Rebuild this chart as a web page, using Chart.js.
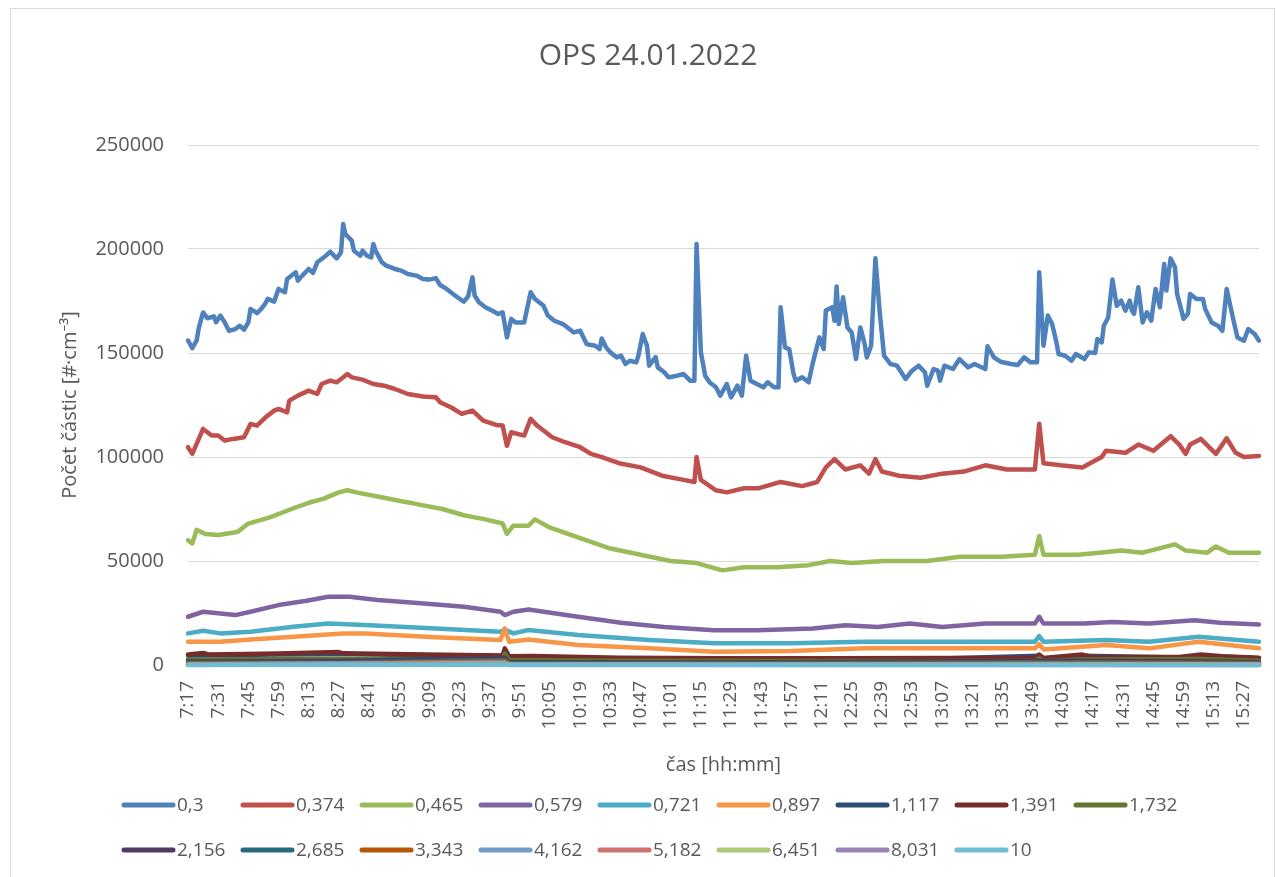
<!DOCTYPE html>
<html>
<head>
<meta charset="utf-8">
<title>OPS 24.01.2022</title>
<script src="https://cdn.jsdelivr.net/npm/chart.js@4.4.1/dist/chart.umd.min.js"></script>
<style>
html, body { margin: 0; padding: 0; background: #fff; }
</style>
</head>
<body>
<canvas id="ops-chart" width="1276" height="877"></canvas>
<script>
// OPS particle counts, one line per size channel
const FONT = "'Open Sans', 'Noto Sans', sans-serif";
const TEXT = '#595959';

// x = minutes after 7:17, a label every 14 minutes
const xTickMinutes = [0, 14, 28, 42, 56, 70, 84, 98, 112, 126, 140, 154, 168, 182, 196, 210, 224, 238,
    252, 266, 280, 294, 308, 322, 336, 350, 364, 378, 392, 406, 420, 434, 448, 462, 476, 490];
const xTickLabels = ['7:17', '7:31', '7:45', '7:59', '8:13', '8:27', '8:41', '8:55', '9:09', '9:23', '9:37', '9:51',
    '10:05', '10:19', '10:33', '10:47', '11:01', '11:15', '11:29', '11:43', '11:57', '12:11', '12:25', '12:39',
    '12:53', '13:07', '13:21', '13:35', '13:49', '14:03', '14:17', '14:31', '14:45', '14:59', '15:13', '15:27'];
const yTicks = [0, 50000, 100000, 150000, 200000, 250000];

const sizeLabels = ['0,3', '0,374', '0,465', '0,579', '0,721', '0,897', '1,117', '1,391', '1,732',
    '2,156', '2,685', '3,343', '4,162', '5,182', '6,451', '8,031', '10'];
const seriesColors = ['#4f81bd', '#c0504d', '#9bbb59', '#8064a2', '#4bacc6', '#f79646', '#2c4d75', '#772c2a', '#5f7530',
    '#4d3b62', '#276a7c', '#b65708', '#729aca', '#cd7371', '#afc97a', '#9983b5', '#6fbdd1'];

// [minute, count]
const s0300 = [
    [0, 156000], [2, 152300], [4, 156000], [5, 162000], [7, 169500], [9, 166700], [12, 167600], [13, 164800], [15, 168000], [17, 164800],
    [19, 160700], [22, 161500], [24, 163100], [26, 161200], [28, 164700], [29, 171200], [32, 169200], [34, 171200], [36, 174000], [37, 176000],
    [40, 174700], [42, 180800], [45, 179200], [46, 185600], [50, 188800], [51, 184800], [53, 187200], [56, 190400], [58, 188500], [60, 193600],
    [62, 195200], [64, 196800], [66, 198700], [69, 195500], [71, 198400], [72, 212000], [73, 207200], [76, 204000], [77, 199200], [80, 196800],
    [81, 199200], [83, 196800], [85, 196000], [86, 202400], [87, 199200], [90, 193600], [92, 192000], [96, 190400], [99, 189600], [102, 188000],
    [106, 187200], [109, 185600], [112, 185300], [115, 186000], [117, 182700], [120, 180800], [123, 178400], [125, 176800], [128, 174700], [130, 177200],
    [132, 186400], [133, 177600], [135, 174400], [138, 172000], [141, 170400], [144, 168800], [146, 169600], [148, 157500], [150, 166400], [152, 164700],
    [156, 164700], [159, 179200], [161, 176000], [164, 173500], [165, 172700], [167, 168000], [170, 165500], [174, 163900], [177, 161500], [179, 159900],
    [182, 160700], [185, 154300], [187, 153800], [189, 153500], [191, 151900], [192, 157000], [194, 152700], [196, 150300], [199, 147900], [201, 148700],
    [203, 144700], [205, 146300], [208, 145500], [209, 148700], [211, 159100], [213, 153500], [214, 143900], [217, 148000], [218, 143100], [221, 140700],
    [223, 138300], [227, 139100], [230, 139900], [233, 136700], [235, 136700], [236, 202400], [238, 150300], [240, 139100], [242, 135900], [245, 133500],
    [247, 129500], [250, 135100], [252, 128700], [255, 134300], [257, 129500], [259, 148700], [261, 136700], [264, 135100], [267, 133500], [269, 135900],
    [272, 133500], [274, 133500], [275, 172000], [277, 152700], [279, 151900], [281, 140000], [282, 136700], [285, 138300], [288, 135900], [290, 145500],
    [293, 157500], [295, 151900], [296, 170400], [299, 172000], [300, 165500], [301, 182000], [302, 163900], [304, 176800], [306, 162300], [308, 159900],
    [310, 147100], [312, 162300], [314, 154300], [315, 147900], [317, 153500], [319, 195500], [321, 169600], [323, 148700], [326, 144700], [329, 143900],
    [331, 140700], [333, 137500], [336, 141500], [339, 143900], [342, 140700], [343, 134300], [346, 142300], [348, 141500], [349, 136700], [351, 143900],
    [355, 142300], [358, 147100], [362, 143100], [365, 144700], [370, 142300], [371, 153200], [374, 147900], [377, 145800], [382, 144700], [385, 144200],
    [388, 147900], [391, 145500], [394, 145500], [395, 188800], [397, 153500], [399, 168000], [401, 163900], [403, 155100], [404, 149500], [407, 148700],
    [410, 146300], [412, 149500], [416, 147100], [418, 150300], [421, 150000], [422, 156700], [424, 155100], [425, 163100], [427, 167100], [429, 185300],
    [431, 172700], [433, 175200], [435, 170400], [437, 175200], [438, 170400], [439, 168800], [441, 181600], [443, 164700], [445, 169600], [447, 165500],
    [449, 180800], [451, 172000], [453, 192800], [454, 180000], [456, 195500], [458, 191200], [459, 178400], [462, 166400], [464, 168800], [465, 178400],
    [468, 176000], [471, 176000], [472, 171200], [475, 164700], [478, 163100], [480, 160700], [482, 180800], [485, 166400], [487, 157500], [490, 155900],
    [492, 161500], [495, 159100], [497, 155900]
];
const s0374 = [
    [0, 104700], [2, 101500], [4, 106300], [7, 113500], [11, 110300], [14, 110300], [17, 107900], [21, 108700], [26, 109500], [29, 115900],
    [32, 115100], [36, 119100], [40, 122300], [42, 123100], [46, 121500], [47, 127100], [51, 129500], [56, 131900], [60, 130300], [62, 135100],
    [66, 136700], [69, 135900], [71, 137500], [74, 139900], [76, 138300], [81, 137200], [86, 135100], [91, 134300], [96, 132700], [102, 130300],
    [109, 129100], [115, 128700], [117, 126300], [122, 123900], [127, 120700], [132, 122300], [137, 117500], [143, 115400], [146, 115100], [148, 105400],
    [150, 111900], [156, 110300], [159, 118300], [162, 115100], [169, 109500], [175, 107100], [182, 104700], [187, 101500], [192, 99900], [200, 97000],
    [210, 95000], [220, 91000], [230, 89000], [235, 88000], [236, 100000], [238, 89000], [245, 84000], [250, 83000], [258, 85000], [265, 85000],
    [275, 88000], [285, 86000], [292, 88000], [296, 95000], [300, 99000], [305, 94000], [312, 96000], [316, 92000], [319, 99000], [322, 93000],
    [330, 91000], [340, 90000], [350, 92000], [360, 93000], [370, 96000], [380, 94000], [393, 94000], [395, 116000], [397, 97000], [405, 96000],
    [415, 95000], [424, 100000], [426, 103000], [435, 102000], [441, 106000], [448, 103000], [456, 110000], [460, 106000], [463, 101500], [465, 106000],
    [470, 108700], [477, 101500], [482, 109000], [486, 102200], [490, 100000], [497, 100500]
];
const s0465 = [
    [0, 60000], [2, 58500], [4, 65000], [8, 63000], [14, 62500], [20, 63500], [23, 64000], [28, 68000], [38, 71000], [48, 75000],
    [56, 78000], [63, 80000], [70, 83000], [74, 84000], [78, 83000], [88, 81000], [98, 79000], [108, 77000], [118, 75000], [128, 72000],
    [138, 70000], [146, 68000], [148, 63000], [151, 67000], [158, 67000], [161, 70000], [168, 66000], [182, 61000], [196, 56000], [210, 53000],
    [224, 50000], [236, 49000], [248, 45500], [258, 47000], [273, 47000], [288, 48000], [298, 50000], [308, 49000], [323, 50000], [333, 50000],
    [343, 50000], [358, 52000], [368, 52000], [378, 52000], [393, 53000], [395, 62000], [397, 53000], [413, 53000], [423, 54000], [433, 55000],
    [443, 54000], [458, 58000], [463, 55000], [473, 54000], [477, 57000], [483, 54000], [497, 54000]
];
const s0579 = [
    [0, 23200], [7, 25600], [15, 24800], [22, 24000], [29, 25600], [42, 28800], [55, 30900], [65, 32800], [75, 32800], [88, 31300],
    [108, 29700], [128, 28000], [145, 25600], [147, 24000], [151, 25600], [158, 26700], [181, 23200], [201, 20300], [221, 18300], [244, 16700],
    [264, 16700], [290, 17500], [305, 19100], [320, 18300], [335, 19900], [350, 18300], [370, 19900], [393, 19900], [395, 23200], [397, 19900],
    [416, 19900], [429, 20700], [446, 19900], [467, 21500], [479, 20300], [497, 19500]
];
const s0721 = [
    [0, 15200], [7, 16500], [15, 15200], [29, 16000], [49, 18400], [65, 20000], [82, 19200], [115, 17600], [145, 16000], [147, 17000],
    [151, 15200], [158, 16800], [181, 14400], [214, 12000], [244, 10400], [280, 10400], [314, 11200], [347, 11200], [393, 11200], [395, 13900],
    [397, 11200], [426, 12000], [446, 11200], [469, 13600], [497, 11200]
];
const s0897 = [
    [0, 11200], [15, 11200], [29, 12300], [49, 13600], [72, 15200], [82, 15200], [115, 13300], [145, 12000], [147, 17600], [149, 11200],
    [158, 12300], [181, 9600], [214, 8000], [244, 6400], [280, 6700], [314, 8000], [347, 8000], [393, 8000], [395, 10000], [397, 7500],
    [426, 9600], [446, 8000], [469, 11200], [497, 8000]
];
const s1117 = [
    [0, 4600], [42, 5100], [72, 5300], [110, 4700], [146, 4300], [147, 7000], [149, 4000], [200, 3200], [250, 2900], [300, 3000],
    [350, 3100], [395, 4500], [397, 3100], [415, 4400], [460, 3600], [470, 4500], [497, 3200]
];
const s1391 = [
    [0, 5000], [7, 5800], [10, 5000], [42, 5500], [70, 6200], [72, 5600], [110, 5000], [146, 4600], [147, 8000], [149, 4200],
    [160, 4300], [200, 3500], [250, 3200], [300, 3300], [350, 3400], [393, 3400], [395, 5000], [397, 3400], [415, 5000], [420, 3800],
    [460, 3900], [470, 5000], [480, 4200], [497, 3500]
];
const s1732 = [
    [0, 2700], [70, 3000], [146, 2600], [147, 5500], [149, 2400], [200, 2100], [300, 1900], [393, 2000], [395, 3200], [397, 2000],
    [415, 2600], [470, 2900], [497, 2100]
];
const s2156 = [[0, 1700], [70, 1900], [147, 3500], [149, 1500], [250, 1200], [395, 2000], [470, 1800], [497, 1300]];
const s2685 = [[0, 1100], [70, 1200], [147, 2500], [149, 1000], [250, 800], [395, 1300], [470, 1200], [497, 900]];
const s3343 = [[0, 700], [70, 800], [147, 1800], [149, 600], [250, 500], [395, 900], [470, 800], [497, 600]];
const s4162 = [[0, 400], [147, 1200], [149, 350], [250, 300], [395, 500], [497, 350]];
const s5182 = [[0, 250], [147, 900], [149, 200], [250, 180], [497, 200]];
const s6451 = [[0, 150], [147, 600], [149, 120], [497, 120]];
const s8031 = [[0, 80], [147, 400], [149, 70], [497, 60]];
const s10000 = [[0, 40], [147, 250], [149, 30], [497, 30]];

const allSeries = [s0300, s0374, s0465, s0579, s0721, s0897, s1117, s1391, s1732,
    s2156, s2685, s3343, s4162, s5182, s6451, s8031, s10000];

// Layout (px)
const W = 1276, H = 877;
const PLOT_LEFT = 188, PLOT_RIGHT = 1259, PLOT_TOP = 145, PLOT_BOTTOM = 665;
const PAD_LEFT = 58, PAD_BOTTOM = 100;

const datasets = allSeries.map((s, i) => ({
    label: sizeLabels[i],
    data: s.map(p => ({ x: p[0], y: p[1] })),
    borderColor: seriesColors[i],
    backgroundColor: seriesColors[i],
    borderWidth: 4.5,
    pointRadius: 0,
    tension: 0,
    borderJoinStyle: 'round',
    borderCapStyle: 'round',
    clip: false,
    order: allSeries.length - i // later series on top, like Excel
}));

const noPadding = axis => {
    axis.paddingLeft = 0;
    axis.paddingRight = 0;
    axis.paddingTop = 0;
    axis.paddingBottom = 0;
};

// Frame, title and Excel-like legend (fixed column grid)
const frame = {
    id: 'frame',
    beforeDraw(chart) {
        const ctx = chart.ctx;
        ctx.save();
        ctx.fillStyle = '#ffffff';
        ctx.fillRect(0, 0, chart.width, chart.height);
        ctx.strokeStyle = '#d9d9d9';
        ctx.lineWidth = 1;
        ctx.strokeRect(10.5, 8.5, chart.width - 12, chart.height);
        ctx.restore();
    },
    afterDraw(chart) {
        const ctx = chart.ctx;
        ctx.save();
        ctx.fillStyle = TEXT;
        ctx.textAlign = 'center';
        ctx.textBaseline = 'middle';
        ctx.font = '30px ' + FONT;
        ctx.fillText('OPS 24.01.2022', 648, 56);

        ctx.font = '19px ' + FONT;
        ctx.textAlign = 'left';
        sizeLabels.forEach((lab, i) => {
            const row = i < 9 ? 0 : 1;
            const col = row ? i - 9 : i;
            const x = 121 + col * 119;
            const y = row ? 850 : 805;
            ctx.strokeStyle = seriesColors[i];
            ctx.lineWidth = 5;
            ctx.lineCap = 'round';
            ctx.beginPath();
            ctx.moveTo(x + 3, y);
            ctx.lineTo(x + 52, y);
            ctx.stroke();
            ctx.fillStyle = TEXT;
            ctx.fillText(lab, x + 56, y + 1);
        });
        ctx.restore();
    }
};

const chart = new Chart(document.getElementById('ops-chart'), {
    type: 'line',
    data: { datasets },
    options: {
        responsive: false,
        animation: false,
        devicePixelRatio: 1,
        layout: {
            padding: { left: PAD_LEFT, top: PLOT_TOP, right: W - PLOT_RIGHT, bottom: PAD_BOTTOM }
        },
        plugins: {
            legend: { display: false },
            title: { display: false },
            tooltip: { enabled: false }
        },
        scales: {
            x: {
                type: 'linear',
                min: 0,
                max: 497,
                grid: { display: false, drawTicks: false },
                border: { display: false },
                afterBuildTicks: axis => { axis.ticks = xTickMinutes.map(v => ({ value: v })); },
                afterFit: axis => { axis.height = H - PLOT_BOTTOM - PAD_BOTTOM; noPadding(axis); },
                ticks: {
                    autoSkip: false,
                    minRotation: 90,
                    maxRotation: 90,
                    padding: 16,
                    color: TEXT,
                    font: { family: FONT, size: 19 },
                    callback: (v, i) => xTickLabels[i]
                },
                title: {
                    display: true,
                    text: 'čas [hh:mm]',
                    color: TEXT,
                    padding: 0,
                    font: { family: FONT, size: 20 }
                }
            },
            y: {
                min: 0,
                max: 250000,
                grid: { color: '#d9d9d9', lineWidth: 1, drawTicks: false },
                border: { display: false },
                afterBuildTicks: axis => { axis.ticks = yTicks.map(v => ({ value: v })); },
                afterFit: axis => { axis.width = PLOT_LEFT - PAD_LEFT; noPadding(axis); },
                ticks: {
                    padding: 24,
                    color: TEXT,
                    font: { family: FONT, size: 20 },
                    callback: v => String(v)
                },
                title: {
                    display: true,
                    text: 'Počet částic [#·cm⁻³]',
                    color: TEXT,
                    padding: 0,
                    font: { family: FONT, size: 20 }
                }
            }
        }
    },
    plugins: [frame]
});
</script>
</body>
</html>
